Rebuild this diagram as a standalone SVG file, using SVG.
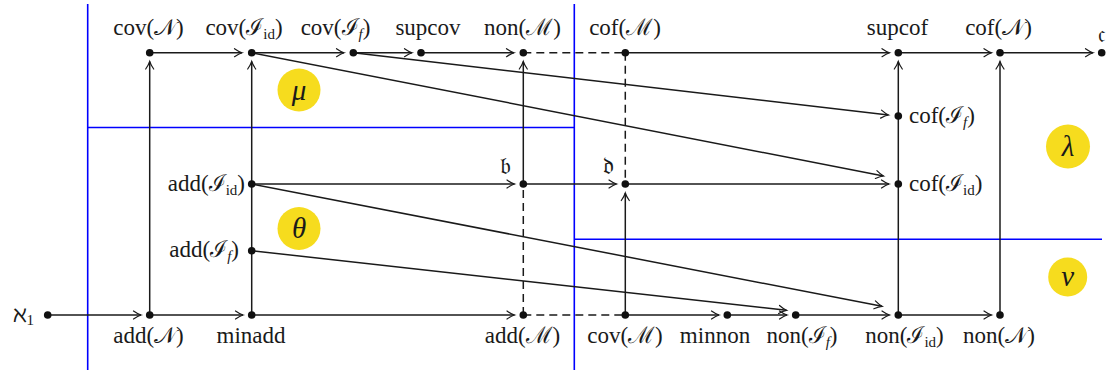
<svg xmlns="http://www.w3.org/2000/svg" width="1111" height="372" viewBox="0 0 1111 372">
<style>
text{font-family:"Liberation Serif","DejaVu Serif",serif;font-size:23px;fill:#1a1a1a}
.m{text-anchor:middle}
.e{text-anchor:end}
.s{font-size:15px}
.fr{font-size:24px;text-anchor:middle}
.g{font-style:italic;font-size:29px;text-anchor:middle}
.dot{fill:#111}
.ln{fill:none;stroke:#1a1a1a;stroke-width:1.5}
.ar{marker-end:url(#tip)}
.da{stroke-dasharray:8 5}
.blue{fill:none;stroke:#0000ff;stroke-width:1.6}
.reg{fill:#f6dc1e}
</style>
<defs>
<marker id="tip" markerUnits="userSpaceOnUse" markerWidth="14" markerHeight="14" viewBox="-10 -7 14 14" refX="0" refY="0" orient="auto" overflow="visible">
<path d="M-7.5,-4 Q-3,-0.9 0,0 Q-3,0.9 -7.5,4" fill="none" stroke="#1a1a1a" stroke-width="1.2" stroke-linecap="round"/>
</marker>
</defs>
<g id="regions">
<path class="blue" d="M87.7,4V370M87.7,127.5H574.3M574.3,4V370M574.3,239.3H1102"/>
<circle class="reg" cx="299" cy="90" r="21.5"/>
<circle class="reg" cx="299" cy="228.5" r="21.5"/>
<circle class="reg" cx="1068" cy="146.5" r="22"/>
<circle class="reg" cx="1067.7" cy="277" r="19.5"/>
<text class="g" x="299" y="100">μ</text>
<text class="g" x="299" y="238">θ</text>
<text class="g" x="1068" y="156">λ</text>
<text class="g" x="1067.7" y="286">ν</text>
</g>
<g id="connectors">
<path class="ln ar" d="M149.7,52.7H242"/>
<path class="ln ar" d="M251.7,52.7H344"/>
<path class="ln ar" d="M353.3,52.7H412"/>
<path class="ln ar" d="M421,52.7H514"/>
<path class="ln da" d="M523.3,52.7H625.3"/>
<path class="ln ar" d="M625.3,52.7H889.5"/>
<path class="ln ar" d="M898.3,52.7H991.5"/>
<path class="ln ar" d="M1000,52.7H1093"/>
<path class="ln ar" d="M251.7,184H514.5"/>
<path class="ln ar" d="M523.3,184H616.5"/>
<path class="ln ar" d="M625.3,184H889"/>
<path class="ln ar" d="M47.7,315H141"/>
<path class="ln ar" d="M149.7,315H243"/>
<path class="ln ar" d="M251.7,315H514.5"/>
<path class="ln da" d="M523.3,315H625.3"/>
<path class="ln ar" d="M625.3,315H719"/>
<path class="ln ar" d="M727.3,315H787"/>
<path class="ln ar" d="M795.7,315H889.5"/>
<path class="ln ar" d="M898.3,315H991.5"/>
<path class="ln ar" d="M149.7,315V61.5"/>
<path class="ln ar" d="M251.7,315V61.5"/>
<path class="ln ar" d="M523.3,184V61.5"/>
<path class="ln da" d="M523.3,315V184"/>
<path class="ln da" d="M625.3,52.7V184"/>
<path class="ln ar" d="M625.3,315V193"/>
<path class="ln ar" d="M898.3,315V61.5"/>
<path class="ln ar" d="M1000,315V61.5"/>
<path class="ln ar" d="M353.3,52.7L888.5,115"/>
<path class="ln ar" d="M251.7,52.7L883.5,176"/>
<path class="ln ar" d="M251.7,184L882,306.3"/>
<path class="ln ar" d="M251.7,250.7L786.5,310.3"/>
</g>
<g id="covN"><circle class="dot" cx="149.7" cy="52.7" r="3.8"/><text class="m" x="148.5" y="35">cov(𝒩)</text></g>
<g id="covIid"><circle class="dot" cx="251.7" cy="52.7" r="3.8"/><text class="m" x="244" y="35">cov(ℐ<tspan class="s" dy="4">id</tspan><tspan dy="-4">)</tspan></text></g>
<g id="covIf"><circle class="dot" cx="353.3" cy="52.7" r="3.8"/><text class="m" x="335.5" y="35">cov(ℐ<tspan class="s" font-style="italic" dy="4">f</tspan><tspan dy="-4">)</tspan></text></g>
<g id="supcov"><circle class="dot" cx="421" cy="52.7" r="3.8"/><text class="m" x="428" y="35">supcov</text></g>
<g id="nonM"><circle class="dot" cx="523.3" cy="52.7" r="3.8"/><text class="m" x="522.5" y="35">non(ℳ)</text></g>
<g id="cofM"><circle class="dot" cx="625.3" cy="52.7" r="3.8"/><text class="m" x="625" y="35">cof(ℳ)</text></g>
<g id="supcof"><circle class="dot" cx="898.3" cy="52.7" r="3.8"/><text class="m" x="897.5" y="35">supcof</text></g>
<g id="cofN"><circle class="dot" cx="1000" cy="52.7" r="3.8"/><text class="m" x="998.5" y="35">cof(𝒩)</text></g>
<g id="c"><circle class="dot" cx="1101.7" cy="52.7" r="3.8"/><text class="fr" x="1102" y="42">𝔠</text></g>
<g id="cofIf"><circle class="dot" cx="898.3" cy="116" r="3.8"/><text x="909" y="123">cof(ℐ<tspan class="s" font-style="italic" dy="4">f</tspan><tspan dy="-4">)</tspan></text></g>
<g id="cofIid"><circle class="dot" cx="898.3" cy="184" r="3.8"/><text x="909" y="191">cof(ℐ<tspan class="s" dy="4">id</tspan><tspan dy="-4">)</tspan></text></g>
<g id="b"><circle class="dot" cx="523.3" cy="184" r="3.8"/><text class="fr" x="505" y="174">𝔟</text></g>
<g id="d"><circle class="dot" cx="625.3" cy="184" r="3.8"/><text class="fr" x="608" y="174">𝔡</text></g>
<g id="addIid"><circle class="dot" cx="251.7" cy="184" r="3.8"/><text class="e" x="245" y="191">add(ℐ<tspan class="s" dy="4">id</tspan><tspan dy="-4">)</tspan></text></g>
<g id="addIf"><circle class="dot" cx="251.7" cy="250.7" r="3.8"/><text class="e" x="239" y="257">add(ℐ<tspan class="s" font-style="italic" dy="4">f</tspan><tspan dy="-4">)</tspan></text></g>
<g id="aleph1"><circle class="dot" cx="47.7" cy="315" r="3.8"/><text class="e" x="34" y="322">ℵ<tspan class="s" dy="3">1</tspan></text></g>
<g id="addN"><circle class="dot" cx="149.7" cy="315" r="3.8"/><text class="m" x="148.5" y="343">add(𝒩)</text></g>
<g id="minadd"><circle class="dot" cx="251.7" cy="315" r="3.8"/><text class="m" x="251" y="343">minadd</text></g>
<g id="addM"><circle class="dot" cx="523.3" cy="315" r="3.8"/><text class="m" x="522.5" y="343">add(ℳ)</text></g>
<g id="covM"><circle class="dot" cx="625.3" cy="315" r="3.8"/><text class="m" x="625" y="343">cov(ℳ)</text></g>
<g id="minnon"><circle class="dot" cx="727.3" cy="315" r="3.8"/><text class="m" x="715" y="343">minnon</text></g>
<g id="nonIf"><circle class="dot" cx="795.7" cy="315" r="3.8"/><text class="m" x="802" y="343">non(ℐ<tspan class="s" font-style="italic" dy="4">f</tspan><tspan dy="-4">)</tspan></text></g>
<g id="nonIid"><circle class="dot" cx="898.3" cy="315" r="3.8"/><text class="m" x="904.5" y="343">non(ℐ<tspan class="s" dy="4">id</tspan><tspan dy="-4">)</tspan></text></g>
<g id="nonN"><circle class="dot" cx="1000" cy="315" r="3.8"/><text class="m" x="999" y="343">non(𝒩)</text></g>
</svg>
